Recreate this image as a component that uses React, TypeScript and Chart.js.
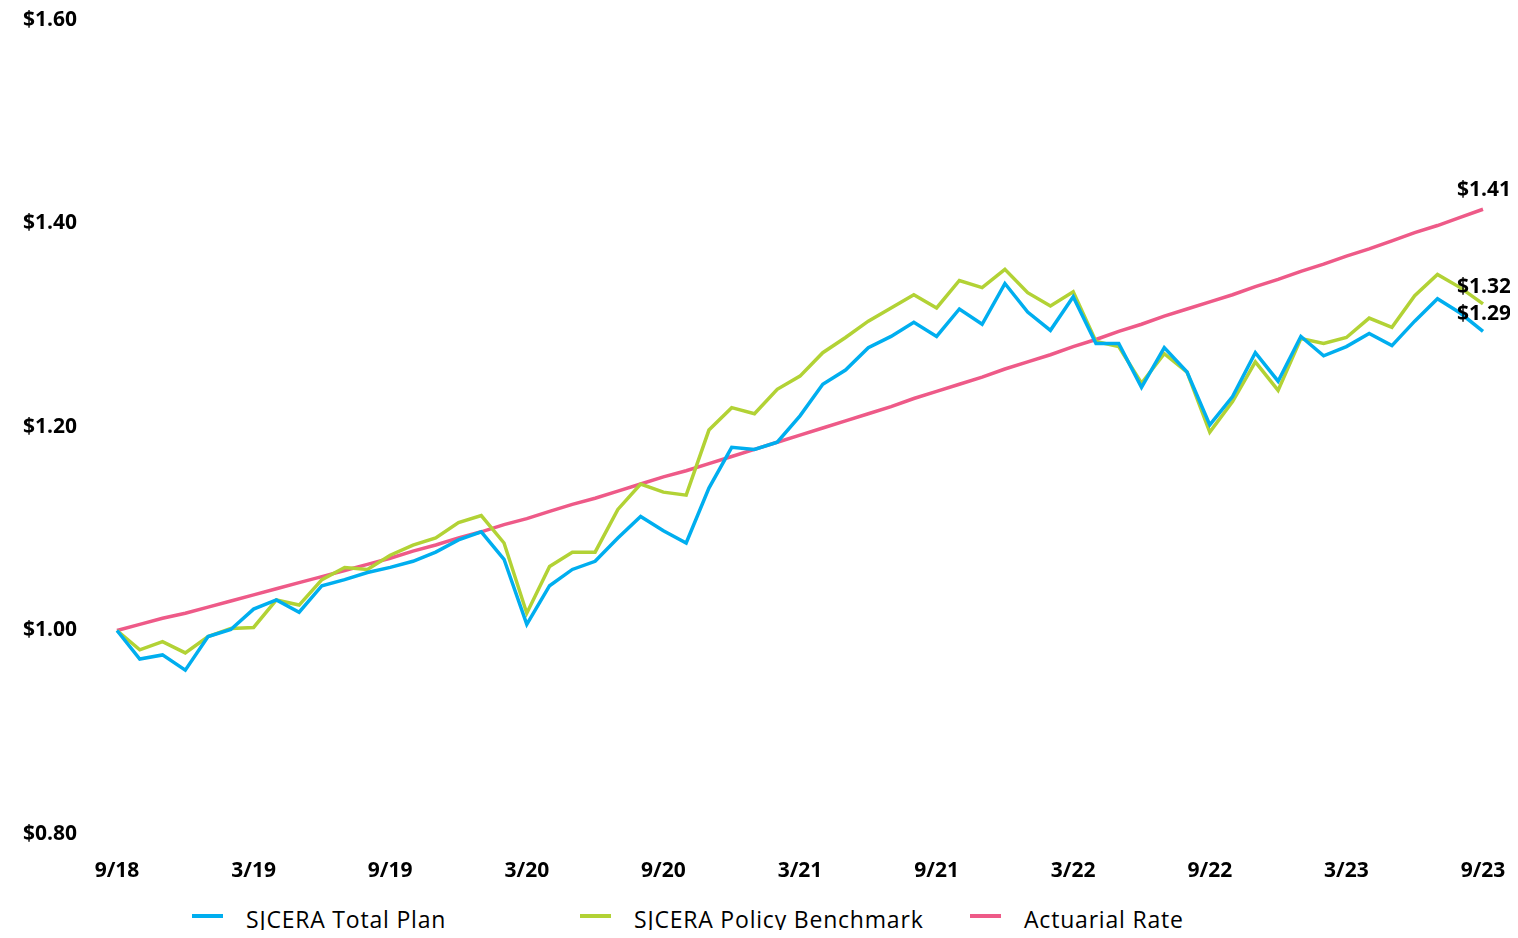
import React, { useEffect, useRef } from "react";
import { Chart, registerables } from "chart.js";

Chart.register(...registerables);

const months = [
  "9/18","10/18","11/18","12/18",
  "1/19","2/19","3/19","4/19","5/19","6/19","7/19","8/19","9/19","10/19","11/19","12/19",
  "1/20","2/20","3/20","4/20","5/20","6/20","7/20","8/20","9/20","10/20","11/20","12/20",
  "1/21","2/21","3/21","4/21","5/21","6/21","7/21","8/21","9/21","10/21","11/21","12/21",
  "1/22","2/22","3/22","4/22","5/22","6/22","7/22","8/22","9/22","10/22","11/22","12/22",
  "1/23","2/23","3/23","4/23","5/23","6/23","7/23","8/23","9/23",
];

const tickLabels = ["9/18","3/19","9/19","3/20","9/20","3/21","9/21","3/22","9/22","3/23","9/23"];

const totalPlan = [
  1.000, 0.972, 0.976, 0.961, 0.994, 1.001, 1.021, 1.030, 1.018, 1.044,
  1.050, 1.057, 1.062, 1.068, 1.077, 1.089, 1.097, 1.070, 1.006, 1.044,
  1.060, 1.068, 1.091, 1.112, 1.098, 1.086, 1.140, 1.180, 1.178, 1.185,
  1.211, 1.242, 1.256, 1.278, 1.289, 1.303, 1.289, 1.316, 1.301, 1.341,
  1.313, 1.295, 1.328, 1.282, 1.282, 1.239, 1.278, 1.254, 1.202, 1.230,
  1.273, 1.245, 1.289, 1.270, 1.279, 1.292, 1.280, 1.304, 1.326, 1.312, 1.294,
];

const policyBenchmark = [
  1.000, 0.981, 0.989, 0.978, 0.994, 1.002, 1.003, 1.030, 1.025, 1.050,
  1.062, 1.060, 1.074, 1.084, 1.091, 1.106, 1.113, 1.086, 1.017, 1.063,
  1.077, 1.077, 1.119, 1.144, 1.136, 1.133, 1.197, 1.219, 1.213, 1.237,
  1.250, 1.273, 1.288, 1.304, 1.317, 1.330, 1.317, 1.344, 1.337, 1.355,
  1.332, 1.319, 1.333, 1.284, 1.279, 1.243, 1.272, 1.254, 1.195, 1.225,
  1.264, 1.236, 1.287, 1.282, 1.288, 1.307, 1.298, 1.329, 1.350, 1.337, 1.321,
];

const actuarialRate = [
  1.000, 1.006, 1.012, 1.017, 1.023, 1.029, 1.035, 1.041, 1.047, 1.053,
  1.059, 1.065, 1.071, 1.078, 1.084, 1.091, 1.097, 1.104, 1.110, 1.117,
  1.124, 1.130, 1.137, 1.144, 1.151, 1.157, 1.164, 1.171, 1.178, 1.185,
  1.192, 1.199, 1.206, 1.213, 1.220, 1.228, 1.235, 1.242, 1.249, 1.257,
  1.264, 1.271, 1.279, 1.286, 1.294, 1.301, 1.309, 1.316, 1.323, 1.330,
  1.338, 1.345, 1.353, 1.360, 1.368, 1.375, 1.383, 1.391, 1.398, 1.406, 1.414,
];

const seriesNames = ["SJCERA Total Plan", "SJCERA Policy Benchmark", "Actuarial Rate"];
const seriesColors = ["#00AEEF", "#B2D235", "#EE5A88"];
const endLabelLift = [17, 17, 19];

const FONT = "'Open Sans', 'Noto Sans', sans-serif";

const endLabelPlugin = {
  id: "endLabels",
  afterDatasetsDraw(chart: any) {
    const ctx = chart.ctx;
    ctx.save();
    ctx.font = `bold 21px ${FONT}`;
    ctx.fillStyle = "#000";
    ctx.textAlign = "center";
    ctx.textBaseline = "middle";
    chart.data.datasets.forEach((ds: any, i: number) => {
      const meta = chart.getDatasetMeta(i);
      const pt = meta.data[meta.data.length - 1];
      const v = ds.data[ds.data.length - 1];
      ctx.fillText("$" + v.toFixed(2), pt.x + 1, pt.y - endLabelLift[i]);
    });
    ctx.restore();
  },
};

export default function App() {
  const ref = useRef<HTMLCanvasElement>(null);

  useEffect(() => {
    if (!ref.current) return;
    const data = [totalPlan, policyBenchmark, actuarialRate];
    const chart = new Chart(ref.current, {
      type: "line",
      data: {
        labels: months,
        datasets: data.map((d, i) => ({
          label: seriesNames[i],
          data: d,
          borderColor: seriesColors[i],
          backgroundColor: seriesColors[i],
          borderWidth: 3.5,
          pointRadius: 0,
          tension: 0,
          fill: false,
        })),
      },
      options: {
        animation: false,
        responsive: false,
        maintainAspectRatio: false,
        layout: { padding: { top: 12, right: 27, left: 0, bottom: 0 }, autoPadding: false },
        plugins: {
          legend: { display: false },
          tooltip: { enabled: false },
        },
        scales: {
          x: {
            grid: { display: false, drawTicks: false },
            border: { display: false },
            afterFit: (s: any) => {
              s.height = 54;
              s.paddingLeft = 0;
              s.paddingRight = 0;
            },
            ticks: {
              autoSkip: false,
              maxRotation: 0,
              padding: 24,
              color: "#000",
              font: { family: FONT, size: 21, weight: "bold" },
              callback: (_v: any, i: number) => (tickLabels.includes(months[i]) ? months[i] : ""),
            },
          },
          y: {
            min: 0.8,
            max: 1.6,
            grid: { display: false, drawTicks: false },
            border: { display: false },
            afterFit: (s: any) => {
              s.width = 109;
              s.paddingTop = 0;
              s.paddingBottom = 0;
            },
            ticks: {
              stepSize: 0.2,
              padding: 40,
              color: "#000",
              font: { family: FONT, size: 21, weight: "bold" },
              callback: (v: any) => "$" + Number(v).toFixed(2),
            },
          },
        },
      },
      plugins: [endLabelPlugin],
    });
    return () => chart.destroy();
  }, []);

  const legendLeft = [184, 572, 962];

  return (
    <div
      style={{
        position: "relative",
        width: 1502,
        height: 938,
        boxSizing: "border-box",
        paddingTop: 8,
        marginTop: -8,
        marginBottom: -8,
        fontFamily: FONT,
      }}
    >
      <canvas ref={ref} width={1502} height={880} style={{ display: "block", width: 1502, height: 880 }} />
      {seriesNames.map((name, i) => (
        <div
          key={name}
          style={{
            position: "absolute",
            left: legendLeft[i],
            top: 905,
            height: 28,
            display: "flex",
            alignItems: "center",
            whiteSpace: "nowrap",
          }}
        >
          <span
            style={{
              display: "inline-block",
              width: 31,
              height: 4,
              background: seriesColors[i],
              marginRight: 23,
              transform: "translateY(-3px)",
            }}
          />
          <span style={{ fontSize: 23, letterSpacing: 0.8, color: "#000" }}>{name}</span>
        </div>
      ))}
    </div>
  );
}
